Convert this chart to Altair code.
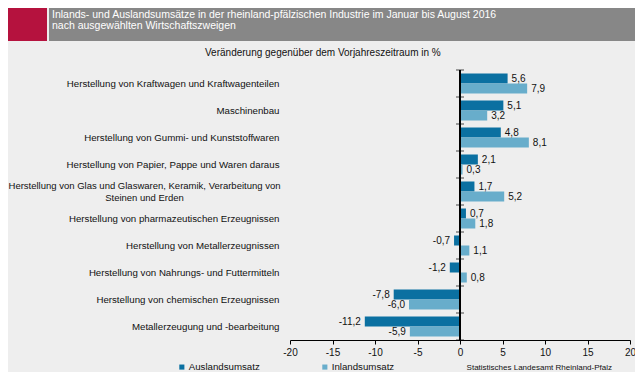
import altair as alt
import pandas as pd

categories = [
    "Herstellung von Kraftwagen und Kraftwagenteilen",
    "Maschinenbau",
    "Herstellung von Gummi- und Kunststoffwaren",
    "Herstellung von Papier, Pappe und Waren daraus",
    "Herstellung von Glas und Glaswaren, Keramik, Verarbeitung von|Steinen und Erden",
    "Herstellung von pharmazeutischen Erzeugnissen",
    "Herstellung von Metallerzeugnissen",
    "Herstellung von Nahrungs- und Futtermitteln",
    "Herstellung von chemischen Erzeugnissen",
    "Metallerzeugung und -bearbeitung",
]
series = ["Auslandsumsatz", "Inlandsumsatz"]
ausland = [5.6, 5.1, 4.8, 2.1, 1.7, 0.7, -0.7, -1.2, -7.8, -11.2]
inland = [7.9, 3.2, 8.1, 0.3, 5.2, 1.8, 1.1, 0.8, -6.0, -5.9]
x_ticks = [-20, -15, -10, -5, 0, 5, 10, 15, 20]

title_lines = [
    "Inlands- und Auslandsumsätze in der rheinland-pfälzischen Industrie im Januar bis August 2016",
    "nach ausgewählten Wirtschaftszweigen",
]
subtitle = "Veränderung gegenüber dem Vorjahreszeitraum  in %"
source = "Statistisches Landesamt Rheinland-Pfalz"

rows = []
for c, a, i in zip(categories, ausland, inland):
    for s, v in zip(series, [a, i]):
        rows.append({"cat": c, "series": s, "value": v,
                     "label": f"{v:.1f}".replace(".", ",")})
df = pd.DataFrame(rows)
cat_df = pd.DataFrame({"cat": categories, "zero": [0] * len(categories)})

FONT = "Liberation Sans"
DARK = "#0b70a1"
LIGHT = "#68adcb"

W, H = 340, 270

yscale = alt.Scale(domain=categories, paddingInner=0, paddingOuter=0)
yoff_scale = alt.Scale(domain=series, paddingInner=0, paddingOuter=0.35)
xscale = alt.Scale(domain=[-20, 20], nice=False)
multi = "indexof(datum.value, '|') >= 0"

y_axis = alt.Axis(
    orient="left", domain=False, ticks=False,
    labelPadding={"condition": {"test": multi, "value": 146}, "value": 11},
    labelAlign={"condition": {"test": multi, "value": "center"}, "value": "right"},
    labelFontSize={"condition": {"test": multi, "value": 9.5}, "value": 9.7},
    labelOffset={"condition": {"test": multi, "value": -6}, "value": 0},
    labelExpr="split(datum.label, '|')",
    labelFont=FONT, labelColor="#111111",
    labelLimit=0, labelLineHeight=12,
)
y_enc = alt.Y("cat:N", scale=yscale, sort=categories, title=None, axis=y_axis)
yoff_enc = alt.YOffset("series:N", sort=series, scale=yoff_scale)

bars = alt.Chart(df).mark_bar().encode(
    x=alt.X("value:Q", scale=xscale, title=None,
            axis=alt.Axis(values=x_ticks, grid=False, domainColor="#000000",
                          tickColor="#000000", tickSize=4, labelPadding=3,
                          labelExpr="toString(datum.value)",
                          labelFont=FONT, labelFontSize=10, labelColor="#111111",
                          labelFlush=False)),
    y=y_enc,
    yOffset=yoff_enc,
    color=alt.Color("series:N", sort=series,
                    scale=alt.Scale(domain=series, range=[DARK, LIGHT]),
                    legend=alt.Legend(title=None, orient="none", legendX=-113, legendY=292,
                                      direction="horizontal", columns=2, columnPadding=60,
                                      symbolType="square", symbolSize=26, symbolStrokeWidth=0,
                                      labelFont=FONT, labelFontSize=9.7, labelColor="#111111",
                                      labelOffset=2)),
)

pos_text = alt.Chart(df).transform_filter("datum.value >= 0").mark_text(
    align="left", baseline="middle", dx=4, font=FONT, fontSize=10, color="#111111"
).encode(
    x=alt.X("value:Q", scale=xscale),
    y=y_enc,
    yOffset=yoff_enc,
    text="label:N",
)

neg_text = alt.Chart(df).transform_filter("datum.value < 0").mark_text(
    align="right", baseline="middle", dx=-4, font=FONT, fontSize=10, color="#111111"
).encode(
    x=alt.X("value:Q", scale=xscale),
    y=y_enc,
    yOffset=yoff_enc,
    text="label:N",
)

# zero axis line and band-boundary ticks
zero_line = alt.Chart(cat_df).mark_rule(color="#000000", strokeWidth=1).encode(
    x=alt.X("zero:Q", scale=xscale))
ticks_top = alt.Chart(cat_df).mark_tick(orient="horizontal", size=8, thickness=1,
                                        color="#000000").encode(
    x=alt.X("zero:Q", scale=xscale),
    y=alt.Y("cat:N", scale=yscale, sort=categories, bandPosition=0, axis=y_axis, title=None))
ticks_end = alt.Chart(cat_df).transform_filter(
    alt.datum.cat == categories[-1]).mark_tick(orient="horizontal", size=8, thickness=1,
                                               color="#000000").encode(
    x=alt.X("zero:Q", scale=xscale),
    y=alt.Y("cat:N", scale=yscale, sort=categories, bandPosition=1, axis=y_axis, title=None))

one = alt.Data(values=[{"t1": title_lines[0], "t2": title_lines[1], "sub": subtitle, "src": source}])

header = alt.Chart(one).mark_rect(color="#878787").encode(
    x=alt.value(-241), x2=alt.value(345), y=alt.value(-62), y2=alt.value(-29))
redblock = alt.Chart(one).mark_rect(color="#b5123e").encode(
    x=alt.value(-282), x2=alt.value(-243), y=alt.value(-62), y2=alt.value(-29))
t1 = alt.Chart(one).mark_text(align="left", baseline="middle", font=FONT, fontSize=10.5,
                              color="#ffffff").encode(x=alt.value(-238), y=alt.value(-55), text="t1:N")
t2 = alt.Chart(one).mark_text(align="left", baseline="middle", font=FONT, fontSize=10.5,
                              color="#ffffff").encode(x=alt.value(-238), y=alt.value(-44), text="t2:N")
sub = alt.Chart(one).mark_text(align="left", baseline="middle", font=FONT, fontSize=10,
                               color="#111111").encode(x=alt.value(-85), y=alt.value(-17), text="sub:N")
src = alt.Chart(one).mark_text(align="right", baseline="middle", font=FONT, fontSize=8,
                               color="#111111").encode(x=alt.value(322), y=alt.value(298), text="src:N")

chart = alt.layer(
    bars, pos_text, neg_text, zero_line, ticks_top, ticks_end,
    header, redblock, t1, t2, sub, src
).properties(
    width=W, height=H,
    autosize=alt.AutoSizeParams(type="none"),
    padding={"left": 282, "top": 62, "right": 5, "bottom": 32},
    background="#eeeeee",
).configure_view(stroke=None)

chart.save("out.html", embed_options={"renderer": "svg", "actions": False})
